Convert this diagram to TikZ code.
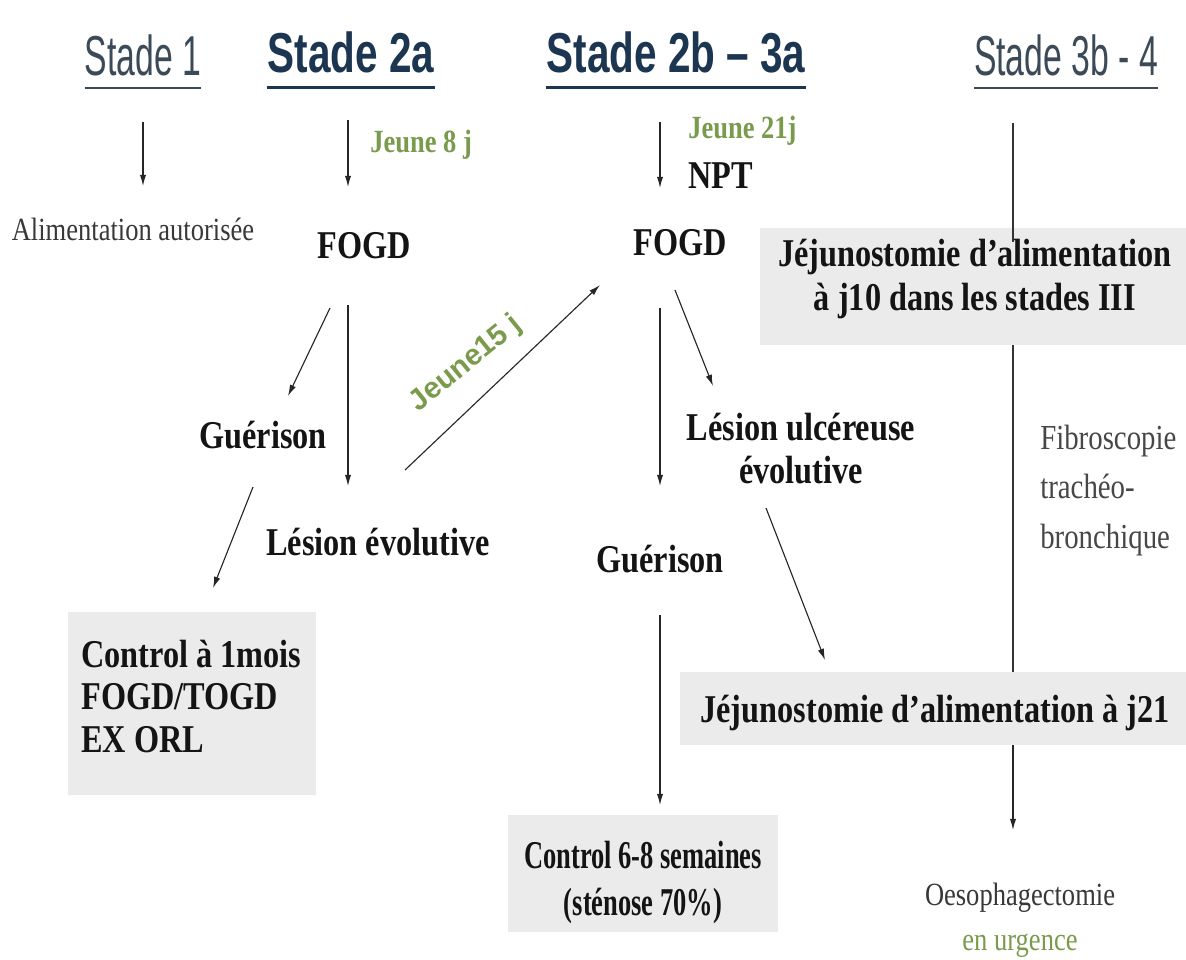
\documentclass[tikz,border=0pt]{standalone}
\usepackage{fontspec}
\setmainfont{Liberation Serif}[FakeStretch=0.82]
\newfontfamily\hbold{Liberation Sans}[FakeStretch=0.72]
\newfontfamily\hlight{Liberation Sans}[FakeStretch=0.6]
\newfontfamily\sansn{Liberation Sans}
\usetikzlibrary{arrows.meta}
\definecolor{hdark}{HTML}{1C3550}
\definecolor{hgray}{HTML}{3C4A58}
\definecolor{vert}{HTML}{7A9A4C}
\definecolor{boxgray}{HTML}{EBEBEB}
\definecolor{txt}{HTML}{141414}
\tikzset{
  hb/.style={font=\hbold\bfseries\fontsize{40}{44}\selectfont, text=hdark, inner sep=0pt, anchor=base},
  hl/.style={font=\hlight\fontsize{40}{44}\selectfont, text=hgray, inner sep=0pt, anchor=base},
  bt/.style={font=\bfseries\fontsize{28}{30}\selectfont, text=txt, inner sep=0pt, anchor=base},
  gt/.style={font=\bfseries\fontsize{23}{26}\selectfont, text=vert, inner sep=0pt, anchor=base},
  lt/.style={font=\fontsize{23}{26}\selectfont, text=black!78, inner sep=0pt, anchor=base},
  graybox/.style={fill=boxgray, inner sep=0pt},
  arr/.style={-{Latex[length=8pt,width=4.5pt]}, line width=0.8pt, black!85},
  ln/.style={line width=0.8pt, black!80},
  ulb/.style={line width=2.8pt, hdark},
  ull/.style={line width=1.3pt, hgray}
}
\begin{document}
\begin{tikzpicture}[x=0.025cm,y=-0.025cm]
\useasboundingbox[fill=white] (0,0) rectangle (1186,960);

% gray boxes
\node[graybox, minimum width=6.2cm, minimum height=4.575cm] (ctl1box) at (192,703.5) {};
\node[graybox, minimum width=12.65cm, minimum height=1.825cm] (jej21) at (933,708.5) {};
\node[graybox, minimum width=6.75cm, minimum height=2.925cm] (ctl68box) at (643,873.5) {};
\node[graybox, minimum width=10.65cm, minimum height=2.925cm] (jej10) at (973,286.5) {};

% headers
\node[hl] (s1) at (143,75) {Stade 1};
\node[hb] (s2a) at (351,72) {Stade 2a};
\node[hb] (s2b) at (676,72) {Stade 2b – 3a};
\node[hl] (s34) at (1066,75) {Stade 3b - 4};
\draw[ull] ([yshift=-9pt]s1.base west) -- ([yshift=-9pt]s1.base east);
\draw[ulb] ([yshift=-11pt]s2a.base west) -- ([yshift=-11pt]s2a.base east);
\draw[ulb] ([yshift=-11pt]s2b.base west) -- ([yshift=-11pt]s2b.base east);
\draw[ull] ([yshift=-9pt]s34.base west) -- ([yshift=-9pt]s34.base east);

% stade 1
\node[lt] (alim) at (133,240) {Alimentation autorisée};

% stade 2a
\node[gt, anchor=base west] (j8) at (370,152) {Jeune 8 j};
\node[bt] (fogda) at (364,258) {FOGD};
\node[bt] (guera) at (263,448) {Guérison};
\node[bt] (lesa) at (378,555) {Lésion évolutive};
\node[bt, align=left, anchor=base west] (ctl1) at (81,752)
  {Control à 1mois\\FOGD/TOGD\\EX ORL};
\node[font=\sansn\bfseries\fontsize{21}{24}\selectfont, text=vert, rotate=39, inner sep=0pt] (j15) at (466,364) {Jeune15 j};

% stade 2b-3a
\node[gt, anchor=base west] (j21) at (688,138) {Jeune 21j};
\node[bt, anchor=base west] (npt) at (688,188) {NPT};
\node[bt] (fogdb) at (680,255) {FOGD};
\node[bt, align=center] (lesb) at (801,483) {Lésion ulcéreuse\\évolutive};
\node[bt] (guerb) at (660,572) {Guérison};
\node[bt] (jej21t) at (935,722) {Jéjunostomie d'alimentation à j21};
\node[bt, align=center, font=\bfseries\fontsize{28}{33}\selectfont] (ctl68) at (643,915)
  {\scalebox{0.82}[1]{Control 6-8 semaines}\\\scalebox{0.82}[1]{(sténose 70\%)}};

% stade 3b-4
\node[bt, align=center, font=\bfseries\fontsize{28}{31}\selectfont] (jej10t) at (975,310)
  {Jéjunostomie d'alimentation\\à j10 dans les stades III};
\node[lt, anchor=base west, align=left, font=\fontsize{25}{35}\selectfont, text=black!72] (fibro) at (1040,548)
  {Fibroscopie\\trachéo-\\bronchique};
\node[lt] (oeso) at (1020,905) {Oesophagectomie};
\node[lt, text=vert] (urg) at (1020,950) {en urgence};

% arrow end points
\coordinate (a1s) at (143,122); \coordinate (a1e) at (143,186);
\coordinate (a2s) at (348,120); \coordinate (a2e) at (348,187);
\coordinate (a3s) at (330,308); \coordinate (a3e) at (288,396);
\coordinate (a4s) at (348,305); \coordinate (a4e) at (348,486);
\coordinate (a5s) at (253,487); \coordinate (a5e) at (213,588);
\coordinate (a6s) at (405,470); \coordinate (a6e) at (600,285);
\coordinate (b1s) at (660,122); \coordinate (b1e) at (660,188);
\coordinate (b2s) at (660,308); \coordinate (b2e) at (660,486);
\coordinate (b3s) at (675,290); \coordinate (b3e) at (713,386);
\coordinate (b4s) at (766,508); \coordinate (b4e) at (825,660);
\coordinate (b5s) at (660,615); \coordinate (b5e) at (660,805);
\coordinate (c1s) at (1013,123); \coordinate (c3e) at (1013,830);

\draw[arr] (a1s) -- (a1e);
\draw[arr] (a2s) -- (a2e);
\draw[arr] (a3s) -- (a3e);
\draw[arr] (a4s) -- (a4e);
\draw[arr] (a5s) -- (a5e);
\draw[arr] (a6s) -- (a6e);
\draw[arr] (b1s) -- (b1e);
\draw[arr] (b2s) -- (b2e);
\draw[arr] (b3s) -- (b3e);
\draw[arr] (b4s) -- (b4e);
\draw[arr] (b5s) -- (b5e);
\draw[ln] (c1s) -- ([yshift=-10pt]c1s |- jej10.north);
\draw[ln] (c1s |- jej10.south) -- (c1s |- jej21.north);
\draw[arr] (c1s |- jej21.south) -- (c3e);
\end{tikzpicture}
\end{document}
